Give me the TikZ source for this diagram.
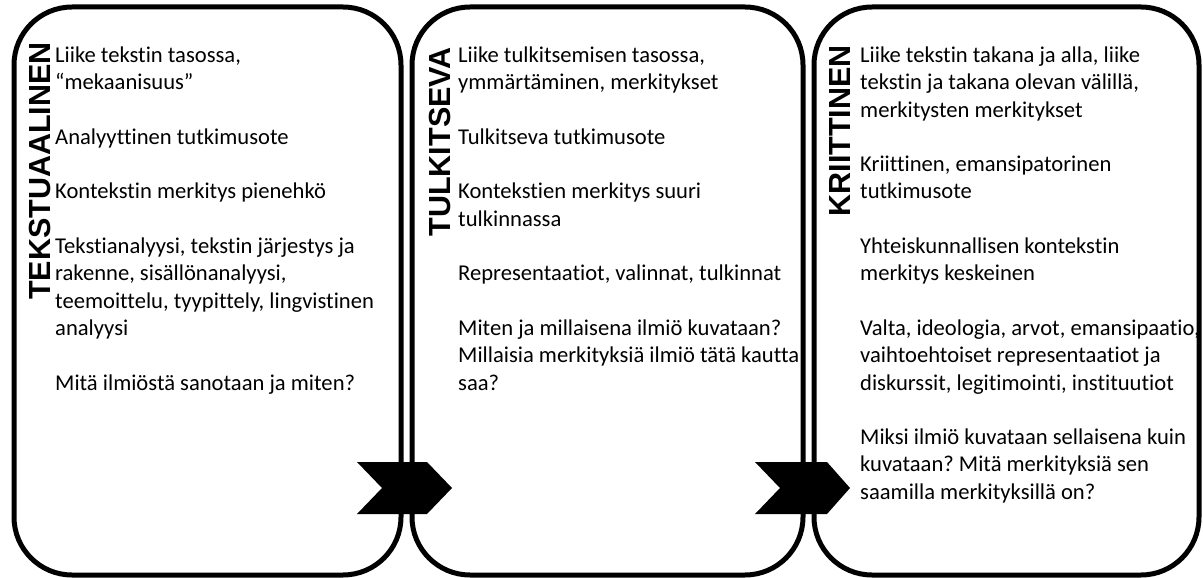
\documentclass[tikz,border=0pt]{standalone}
\usepackage{fontspec}
\setmainfont{Carlito}[Ligatures=NoCommon]
\newfontfamily\titlefont{Liberation Sans}
\frenchspacing
\begin{document}
\begin{tikzpicture}[x=1pt,y=-1pt,
  panel/.style={draw=black, line width=5pt, fill=white, rounded corners=58pt, minimum height=568pt, inner sep=0pt},
  title/.style={font=\titlefont\bfseries\fontsize{30.5}{30.5}\selectfont, rotate=90, anchor=base east, inner sep=0pt},
  body/.style={anchor=base west, inner sep=0pt, font=\fontsize{22.6}{27.3}\selectfont},
  chev/.style={fill=black}]
\useasboundingbox (0,0) rectangle (1203,578);
\node[panel, minimum width=387pt] (p1) at (207.5,291) {};
\node[panel, minimum width=391pt] (p2) at (607.5,291) {};
\node[panel, minimum width=385pt] (p3) at (1006.5,291) {};
\fill[chev] (357,462) -- (427,462) -- (452,488) -- (427,514) -- (357,514) -- (382,488) -- cycle;
\fill[chev] (755,462) -- (827,462) -- (850,488) -- (827,514) -- (755,514) -- (780,488) -- cycle;
\node[title] (h1) at (50,42) {TEKSTUAALINEN};
\node[title] (h2) at (450,47) {TULKITSEVA};
\node[title] (h3) at (850,45) {KRIITTINEN};
\node[body] (t1) at (55,62.5) {\parbox[t]{400pt}{\raggedright
Liike tekstin tasossa,\\
“mekaanisuus”\\[27.3pt]
Analyyttinen tutkimusote\\[27.3pt]
Kontekstin merkitys pienehkö\\[27.3pt]
Tekstianalyysi, tekstin järjestys ja\\
rakenne, sisällönanalyysi,\\
teemoittelu, tyypittely, lingvistinen\\
analyysi\\[27.3pt]
Mitä ilmiöstä sanotaan ja miten?}};
\node[body] (t2) at (458,62.5) {\parbox[t]{400pt}{\raggedright
Liike tulkitsemisen tasossa,\\
ymmärtäminen, merkitykset\\[27.3pt]
Tulkitseva tutkimusote\\[27.3pt]
Kontekstien merkitys suuri\\
tulkinnassa\\[27.3pt]
Representaatiot, valinnat, tulkinnat\\[27.3pt]
Miten ja millaisena ilmiö kuvataan?\\
Millaisia merkityksiä ilmiö tätä kautta\\
saa?}};
\node[body] (t3) at (860,62.5) {\parbox[t]{400pt}{\raggedright
Liike tekstin takana ja alla, liike\\
tekstin ja takana olevan välillä,\\
merkitysten merkitykset\\[27.3pt]
Kriittinen, emansipatorinen\\
tutkimusote\\[27.3pt]
Yhteiskunnallisen kontekstin\\
merkitys keskeinen\\[27.3pt]
Valta, ideologia, arvot, emansipaatio,\\
vaihtoehtoiset representaatiot ja\\
diskurssit, legitimointi, instituutiot\\[27.3pt]
Miksi ilmiö kuvataan sellaisena kuin\\
kuvataan? Mitä merkityksiä sen\\
saamilla merkityksillä on?}};
\end{tikzpicture}
\end{document}
